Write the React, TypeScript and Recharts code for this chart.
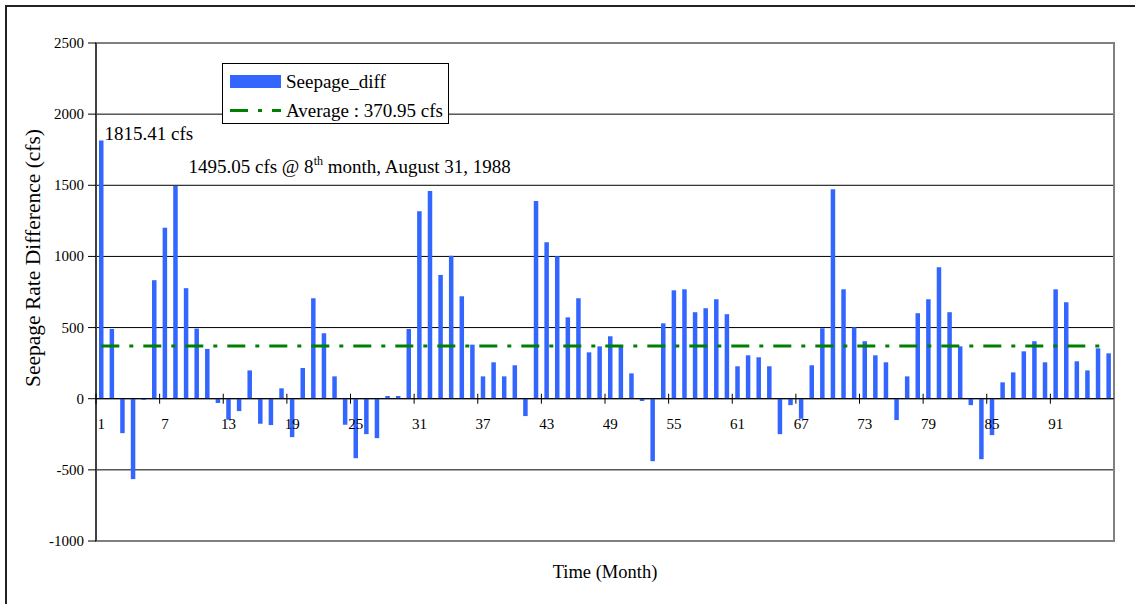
import React from 'react';
import {
  BarChart,
  Bar,
  XAxis,
  YAxis,
  CartesianGrid,
  ReferenceLine,
  ReferenceArea,
  Legend,
  LabelList,
} from 'recharts';

// monthly seepage rate difference (cfs), months 1..96
const seepageDiff = [
  1815.41, 490, -242, -565, -8, 833, 1201, 1495.05, 777, 493, 350, -30,
  -148, -87, 199, -176, -185, 73, -270, 216, 706, 460, 157, -183,
  -418, -249, -277, 19, 19, 490, 1318, 1459, 870, 1004, 720, 380,
  157, 256, 157, 235, -122, 1389, 1100, 1002, 572, 706, 326, 368,
  439, 368, 178, -16, -439, 530, 762, 769, 608, 636, 699, 594,
  228, 305, 291, 228, -249, -45, -141, 235, 495, 1473, 769, 502,
  404, 305, 256, -150, 157, 601, 699, 924, 608, 368, -45, -425,
  -256, 115, 185, 333, 404, 256, 769, 678, 263, 199, 354, 319,
];
const months = seepageDiff.map((_, i) => String(i + 1));
const yTicks = [-1000, -500, 0, 500, 1000, 1500, 2000, 2500];
const averageDiff = 370.95;
const peakMonth = 8;
const peakDate = 'August 31, 1988';

const data = months.map((month, i) => ({ month, diff: seepageDiff[i] }));

const FONT = '"Liberation Serif", "Times New Roman", serif';
const BAR_COLOR = '#3366FF';
const AVG_COLOR = '#008000';
const AVG_DASH = '18 10 4 10';

const CHART_W = 1135;
const CHART_H = 604;
const MARGIN = { top: 43, right: 21, left: 6, bottom: 0 };
const Y_AXIS_W = 90;
const X_AXIS_H = 63;
const PLOT_W = CHART_W - MARGIN.left - MARGIN.right - Y_AXIS_W;
const PLOT_H = CHART_H - MARGIN.top - MARGIN.bottom - X_AXIS_H;
const BAND = PLOT_W / months.length;
// how far the zero line sits above the bottom of the plot
const ZERO_LIFT =
  (PLOT_H * (0 - yTicks[0])) / (yTicks[yTicks.length - 1] - yTicks[0]);

// month labels sit under the zero line, tick marks between categories
const MonthTick = (props: any) => {
  const { x, y, payload } = props;
  const zeroY = y - ZERO_LIFT;
  const edge = x - BAND / 2;
  return (
    <g>
      <line x1={edge} x2={edge} y1={zeroY - 5} y2={zeroY + 5} stroke="#000" />
      <text
        x={x}
        y={zeroY + 30}
        textAnchor="middle"
        fontSize={15}
        fontFamily={FONT}
        fill="#000"
      >
        {payload.value}
      </text>
    </g>
  );
};

const ValueTick = (props: any) => {
  const { x, y, payload } = props;
  return (
    <text
      x={x}
      y={y}
      textAnchor="end"
      dominantBaseline="central"
      fontSize={15}
      fontFamily={FONT}
      fill="#000"
    >
      {payload.value}
    </text>
  );
};

const YTitle = (props: any) => {
  const { viewBox } = props;
  const cx = viewBox.x + 27;
  const cy = viewBox.y + viewBox.height / 2 - 34;
  return (
    <text
      x={cx}
      y={cy}
      transform={`rotate(-90 ${cx} ${cy})`}
      textAnchor="middle"
      dominantBaseline="central"
      fontSize={21.5}
      fontFamily={FONT}
      fill="#000"
    >
      Seepage Rate Difference (cfs)
    </text>
  );
};

// value notes for the first month and the peak month
const PeakLabel = (props: any) => {
  const { x, y, width, value, index } = props;
  if (index === 0) {
    return (
      <text x={x + width + 1} y={y} fontSize={19} fontFamily={FONT} fill="#000">
        {`${value.toFixed(2)} cfs`}
      </text>
    );
  }
  if (index === peakMonth - 1) {
    return (
      <text
        x={x + width / 2 + 13}
        y={y - 12.5}
        fontSize={19}
        fontFamily={FONT}
        fill="#000"
      >
        {`${value.toFixed(2)} cfs @ ${peakMonth}`}
        <tspan dy={-8} fontSize={12}>
          th
        </tspan>
        <tspan dy={8}>{` month, ${peakDate}`}</tspan>
      </text>
    );
  }
  return null;
};

const LegendBox = () => (
  <div
    style={{
      width: 227,
      height: 61,
      boxSizing: 'border-box',
      border: '1px solid #000',
      background: '#fff',
      padding: '3px 0 0 7px',
      fontFamily: FONT,
      fontSize: 19,
      color: '#000',
    }}
  >
    <div style={{ display: 'flex', alignItems: 'center', height: 29 }}>
      <svg width={51} height={13} style={{ display: 'block' }}>
        <rect width={51} height={13} fill={BAR_COLOR} />
      </svg>
      <span style={{ marginLeft: 5, whiteSpace: 'nowrap' }}>Seepage_diff</span>
    </div>
    <div style={{ display: 'flex', alignItems: 'center', height: 29 }}>
      <svg width={51} height={13} style={{ display: 'block' }}>
        <line
          x1={0}
          x2={51}
          y1={6.5}
          y2={6.5}
          stroke={AVG_COLOR}
          strokeWidth={3}
          strokeDasharray={AVG_DASH}
        />
      </svg>
      <span style={{ marginLeft: 5, whiteSpace: 'nowrap' }}>
        {`Average : ${averageDiff.toFixed(2)} cfs`}
      </span>
    </div>
  </div>
);

export default function App() {
  return (
    <div
      style={{
        position: 'absolute',
        left: 0,
        top: 0,
        width: CHART_W,
        height: CHART_H,
        overflow: 'hidden',
        background: '#fff',
      }}
    >
      <div
        style={{
          position: 'absolute',
          left: 5,
          top: 5,
          width: 1200,
          height: 700,
          border: '2px solid #222',
        }}
      />
      <BarChart
        width={CHART_W}
        height={CHART_H}
        data={data}
        margin={MARGIN}
        style={{ position: 'absolute', left: 0, top: 0 }}
      >
        <CartesianGrid vertical={false} stroke="#000" />
        <ReferenceArea
          y1={yTicks[0]}
          y2={yTicks[yTicks.length - 1]}
          fill="none"
          stroke="#808080"
          strokeWidth={2}
        />
        <XAxis
          dataKey="month"
          interval={5}
          height={X_AXIS_H}
          axisLine={false}
          tickLine={false}
          tickSize={0}
          tickMargin={0}
          tick={<MonthTick />}
          label={{
            value: 'Time (Month)',
            position: 'insideBottom',
            offset: 26,
            fontSize: 18.5,
            fontFamily: FONT,
            fill: '#000',
          }}
        />
        <YAxis
          width={Y_AXIS_W}
          domain={[yTicks[0], yTicks[yTicks.length - 1]]}
          ticks={yTicks}
          interval={0}
          axisLine={{ stroke: '#000' }}
          tickLine={{ stroke: '#000' }}
          tickSize={8}
          tickMargin={4}
          tick={<ValueTick />}
          label={<YTitle />}
        />
        <Legend
          layout="vertical"
          align="center"
          verticalAlign="middle"
          wrapperStyle={{ left: 222, top: 63, width: 227, height: 61 }}
          content={<LegendBox />}
        />
        <Bar
          dataKey="diff"
          name="Seepage_diff"
          fill={BAR_COLOR}
          barSize={4.5}
          isAnimationActive={false}
        >
          <LabelList dataKey="diff" content={<PeakLabel />} />
        </Bar>
        <ReferenceLine y={0} stroke="#000" />
        <ReferenceLine
          segment={[
            { x: months[0], y: averageDiff },
            { x: months[months.length - 1], y: averageDiff },
          ]}
          stroke={AVG_COLOR}
          strokeWidth={3}
          strokeDasharray={AVG_DASH}
          ifOverflow="visible"
        />
      </BarChart>
    </div>
  );
}
